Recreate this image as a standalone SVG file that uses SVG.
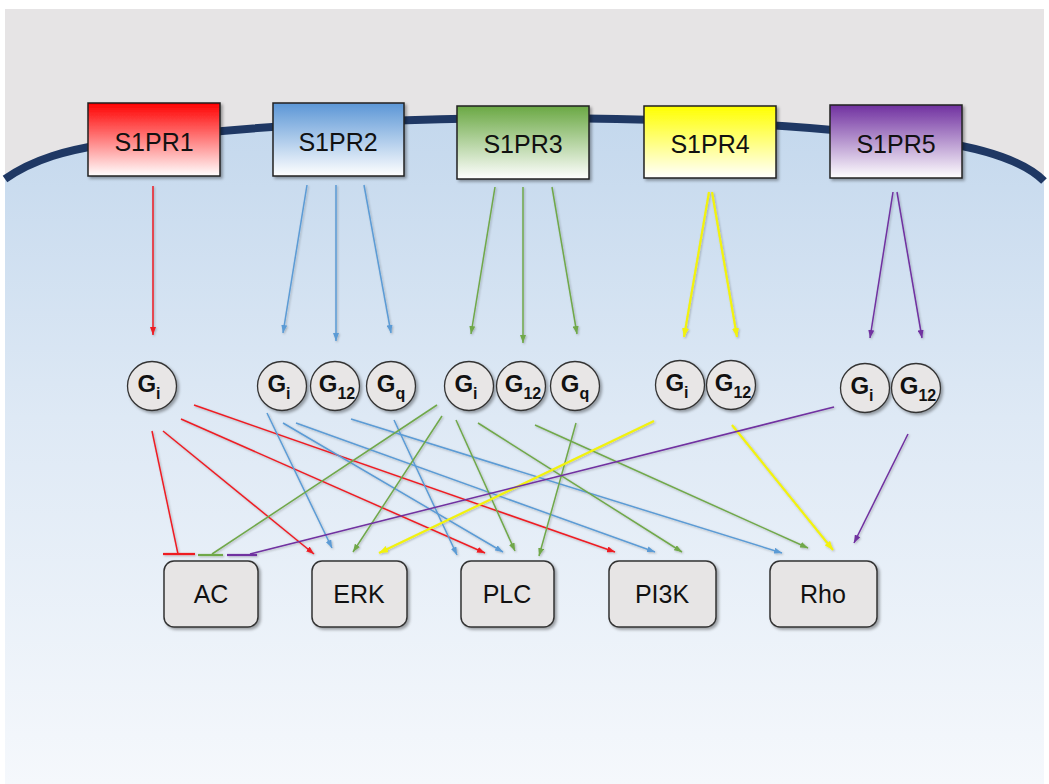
<svg xmlns="http://www.w3.org/2000/svg" width="1049" height="784" viewBox="0 0 1049 784">
  <defs>
    <linearGradient id="cyto" x1="0" y1="118" x2="0" y2="784" gradientUnits="userSpaceOnUse">
      <stop offset="0" stop-color="#c4d8ed"/>
      <stop offset="0.45" stop-color="#dee9f5"/>
      <stop offset="1" stop-color="#f5f8fc"/>
    </linearGradient>
    <linearGradient id="gRed" x1="0" y1="0" x2="0" y2="1">
      <stop offset="0" stop-color="#ff0000"/>
      <stop offset="1" stop-color="#ffffff"/>
    </linearGradient>
    <linearGradient id="gBlue" x1="0" y1="0" x2="0" y2="1">
      <stop offset="0" stop-color="#5b96d6"/>
      <stop offset="1" stop-color="#ffffff"/>
    </linearGradient>
    <linearGradient id="gGreen" x1="0" y1="0" x2="0" y2="1">
      <stop offset="0" stop-color="#6aa843"/>
      <stop offset="1" stop-color="#ffffff"/>
    </linearGradient>
    <linearGradient id="gYellow" x1="0" y1="0" x2="0" y2="1">
      <stop offset="0" stop-color="#ffff00"/>
      <stop offset="1" stop-color="#ffffff"/>
    </linearGradient>
    <linearGradient id="gPurple" x1="0" y1="0" x2="0" y2="1">
      <stop offset="0" stop-color="#7030a0"/>
      <stop offset="1" stop-color="#ffffff"/>
    </linearGradient>
    <filter id="shadow" x="-10%" y="-10%" width="130%" height="130%">
      <feDropShadow dx="2" dy="2" stdDeviation="1.5" flood-color="#000" flood-opacity="0.35"/>
    </filter>
    <filter id="lineShadow" x="-5%" y="-5%" width="110%" height="110%">
      <feDropShadow dx="1" dy="1" stdDeviation="0.8" flood-color="#000" flood-opacity="0.25"/>
    </filter>
    <marker id="aRed" markerWidth="8" markerHeight="6" refX="8" refY="3" orient="auto" markerUnits="userSpaceOnUse"><path d="M0,0 L8,3 L0,6 z" fill="#ee1c24"/></marker>
    <marker id="aBlue" markerWidth="8" markerHeight="6" refX="8" refY="3" orient="auto" markerUnits="userSpaceOnUse"><path d="M0,0 L8,3 L0,6 z" fill="#5b9bd5"/></marker>
    <marker id="aGreen" markerWidth="8" markerHeight="6" refX="8" refY="3" orient="auto" markerUnits="userSpaceOnUse"><path d="M0,0 L8,3 L0,6 z" fill="#70a84a"/></marker>
    <marker id="aYellow" markerWidth="9" markerHeight="7" refX="9" refY="3.5" orient="auto" markerUnits="userSpaceOnUse"><path d="M0,0 L9,3.5 L0,7 z" fill="#f2f20a"/></marker>
    <marker id="aPurple" markerWidth="8" markerHeight="6" refX="8" refY="3" orient="auto" markerUnits="userSpaceOnUse"><path d="M0,0 L8,3 L0,6 z" fill="#7030a0"/></marker>
  </defs>
  <style>
    .rec { stroke: #222; stroke-width: 1.5; filter: url(#shadow); }
    .recText { font-family: "Liberation Sans", Arial, sans-serif; font-size: 25px; fill: #111; text-anchor: middle; }
    .gp { fill: #e8e6e6; stroke: #333; stroke-width: 1.3; filter: url(#shadow); }
    .gText { font-family: "Liberation Sans", Arial, sans-serif; font-weight: bold; font-size: 24px; fill: #111; text-anchor: middle; }
    .sub { font-size: 16px; }
    .eff { fill: #e7e5e5; stroke: #333; stroke-width: 1.5; filter: url(#shadow); }
    .effText { font-family: "Liberation Sans", Arial, sans-serif; font-size: 25px; fill: #111; text-anchor: middle; }
    .c { fill: none; stroke-width: 1.5; }
    .red { stroke: #ee1c24; }
    .blue { stroke: #5b9bd5; }
    .green { stroke: #70a84a; }
    .yellow { stroke: #f2f20a; stroke-width: 2.2; }
    .purple { stroke: #7030a0; }
    .bar { stroke-width: 2.2; }
  </style>

  <!-- cell: extracellular space, cytoplasm, membrane -->
  <g id="cell">
    <rect x="5" y="9" width="1039" height="775" fill="#e6e4e5"/>
    <path d="M5,180 L5,179 C35,158 70,150 100,145 C200,130 330,120 520,118 C710,118 840,128 940,142 C990,150 1025,162 1044,181 L1044,784 L5,784 Z" fill="url(#cyto)"/>
    <path d="M5,179 C35,158 70,150 100,145 C200,130 330,120 520,118 C710,118 840,128 940,142 C990,150 1025,162 1044,181" fill="none" stroke="#1f3864" stroke-width="8"/>
  </g>

  <!-- receptors -->
  <g id="S1PR1"><rect class="rec" x="88" y="103" width="132" height="73" fill="url(#gRed)"/><text class="recText" x="154" y="151">S1PR1</text></g>
  <g id="S1PR2"><rect class="rec" x="273" y="103" width="131" height="73" fill="url(#gBlue)"/><text class="recText" x="338" y="151">S1PR2</text></g>
  <g id="S1PR3"><rect class="rec" x="457" y="106" width="132" height="73" fill="url(#gGreen)"/><text class="recText" x="523" y="153">S1PR3</text></g>
  <g id="S1PR4"><rect class="rec" x="644" y="106" width="132" height="72" fill="url(#gYellow)"/><text class="recText" x="710" y="153">S1PR4</text></g>
  <g id="S1PR5"><rect class="rec" x="830" y="105" width="132" height="73" fill="url(#gPurple)"/><text class="recText" x="896" y="153">S1PR5</text></g>

  <!-- G proteins -->
  <g id="R1_Gi"><circle class="gp" cx="152" cy="386" r="24.5"/><text class="gText" x="149" y="392">G<tspan class="sub" dy="7">i</tspan></text></g>
  <g id="R2_Gi"><circle class="gp" cx="282" cy="386" r="24.5"/><text class="gText" x="279" y="392">G<tspan class="sub" dy="7">i</tspan></text></g>
  <g id="R2_G12"><circle class="gp" cx="335" cy="386" r="24.5"/><text class="gText" x="337" y="392">G<tspan class="sub" dy="7">12</tspan></text></g>
  <g id="R2_Gq"><circle class="gp" cx="391" cy="386" r="24.5"/><text class="gText" x="391" y="392">G<tspan class="sub" dy="7">q</tspan></text></g>
  <g id="R3_Gi"><circle class="gp" cx="469" cy="386" r="24.5"/><text class="gText" x="466" y="392">G<tspan class="sub" dy="7">i</tspan></text></g>
  <g id="R3_G12"><circle class="gp" cx="521" cy="386" r="24.5"/><text class="gText" x="523" y="392">G<tspan class="sub" dy="7">12</tspan></text></g>
  <g id="R3_Gq"><circle class="gp" cx="575" cy="386" r="24.5"/><text class="gText" x="575" y="392">G<tspan class="sub" dy="7">q</tspan></text></g>
  <g id="R4_Gi"><circle class="gp" cx="680" cy="385" r="24.5"/><text class="gText" x="677" y="391">G<tspan class="sub" dy="7">i</tspan></text></g>
  <g id="R4_G12"><circle class="gp" cx="731" cy="385" r="24.5"/><text class="gText" x="733" y="391">G<tspan class="sub" dy="7">12</tspan></text></g>
  <g id="R5_Gi"><circle class="gp" cx="865" cy="388" r="24.5"/><text class="gText" x="862" y="394">G<tspan class="sub" dy="7">i</tspan></text></g>
  <g id="R5_G12"><circle class="gp" cx="916" cy="388" r="24.5"/><text class="gText" x="918" y="394">G<tspan class="sub" dy="7">12</tspan></text></g>

  <!-- effectors -->
  <g id="AC"><rect class="eff" x="164" y="561" width="94" height="66" rx="10"/><text class="effText" x="211" y="603">AC</text></g>
  <g id="ERK"><rect class="eff" x="312" y="561" width="95" height="66" rx="10"/><text class="effText" x="359" y="603">ERK</text></g>
  <g id="PLC"><rect class="eff" x="461" y="561" width="93" height="66" rx="10"/><text class="effText" x="507" y="603">PLC</text></g>
  <g id="PI3K"><rect class="eff" x="609" y="561" width="107" height="66" rx="10"/><text class="effText" x="662" y="603">PI3K</text></g>
  <g id="Rho"><rect class="eff" x="770" y="561" width="107" height="66" rx="10"/><text class="effText" x="823" y="603">Rho</text></g>

  <!-- connectors -->
  <g id="connectors" filter="url(#lineShadow)">
    <!-- receptor to G protein -->
    <line class="c red" x1="153" y1="186" x2="153" y2="335" marker-end="url(#aRed)"/>
    <line class="c blue" x1="307" y1="185" x2="283" y2="333" marker-end="url(#aBlue)"/>
    <line class="c blue" x1="336" y1="185" x2="336" y2="341" marker-end="url(#aBlue)"/>
    <line class="c blue" x1="364" y1="185" x2="391" y2="333" marker-end="url(#aBlue)"/>
    <line class="c green" x1="495" y1="187" x2="471" y2="334" marker-end="url(#aGreen)"/>
    <line class="c green" x1="523" y1="187" x2="523" y2="343" marker-end="url(#aGreen)"/>
    <line class="c green" x1="552" y1="187" x2="577" y2="334" marker-end="url(#aGreen)"/>
    <line class="c yellow" x1="709" y1="192" x2="684" y2="337" marker-end="url(#aYellow)"/>
    <line class="c yellow" x1="712" y1="192" x2="737" y2="337" marker-end="url(#aYellow)"/>
    <line class="c purple" x1="893" y1="192" x2="870" y2="338" marker-end="url(#aPurple)"/>
    <line class="c purple" x1="897" y1="192" x2="922" y2="338" marker-end="url(#aPurple)"/>

    <!-- S1PR1 Gi -->
    <line class="c red" x1="152" y1="431" x2="178" y2="554"/>
    <line class="c red bar" x1="163" y1="554" x2="195" y2="554"/>
    <line class="c red" x1="163" y1="431" x2="314" y2="554" marker-end="url(#aRed)"/>
    <line class="c red" x1="181" y1="419" x2="485" y2="553" marker-end="url(#aRed)"/>
    <line class="c red" x1="194" y1="405" x2="615" y2="552" marker-end="url(#aRed)"/>

    <!-- S1PR2 G proteins -->
    <line class="c blue" x1="267" y1="413" x2="332" y2="548" marker-end="url(#aBlue)"/>
    <line class="c blue" x1="283" y1="423" x2="503" y2="552" marker-end="url(#aBlue)"/>
    <line class="c blue" x1="296" y1="423" x2="655" y2="552" marker-end="url(#aBlue)"/>
    <line class="c blue" x1="351" y1="419" x2="782" y2="553" marker-end="url(#aBlue)"/>
    <line class="c blue" x1="394" y1="420" x2="457" y2="555" marker-end="url(#aBlue)"/>

    <!-- S1PR3 G proteins -->
    <line class="c green" x1="437" y1="405" x2="212" y2="554"/>
    <line class="c green bar" x1="198" y1="555" x2="223" y2="555"/>
    <line class="c green" x1="442" y1="416" x2="353" y2="552" marker-end="url(#aGreen)"/>
    <line class="c green" x1="456" y1="420" x2="515" y2="551" marker-end="url(#aGreen)"/>
    <line class="c green" x1="478" y1="423" x2="682" y2="552" marker-end="url(#aGreen)"/>
    <line class="c green" x1="535" y1="425" x2="808" y2="548" marker-end="url(#aGreen)"/>
    <line class="c green" x1="576" y1="423" x2="539" y2="556" marker-end="url(#aGreen)"/>

    <!-- S1PR4 G proteins -->
    <line class="c yellow" x1="654" y1="421" x2="379" y2="553" marker-end="url(#aYellow)"/>
    <line class="c yellow" x1="732" y1="425" x2="833" y2="550" marker-end="url(#aYellow)"/>

    <!-- S1PR5 G proteins -->
    <line class="c purple" x1="834" y1="407" x2="250" y2="554"/>
    <line class="c purple bar" x1="227" y1="555" x2="257" y2="555"/>
    <line class="c purple" x1="908" y1="434" x2="854" y2="543" marker-end="url(#aPurple)"/>
  </g>
</svg>
